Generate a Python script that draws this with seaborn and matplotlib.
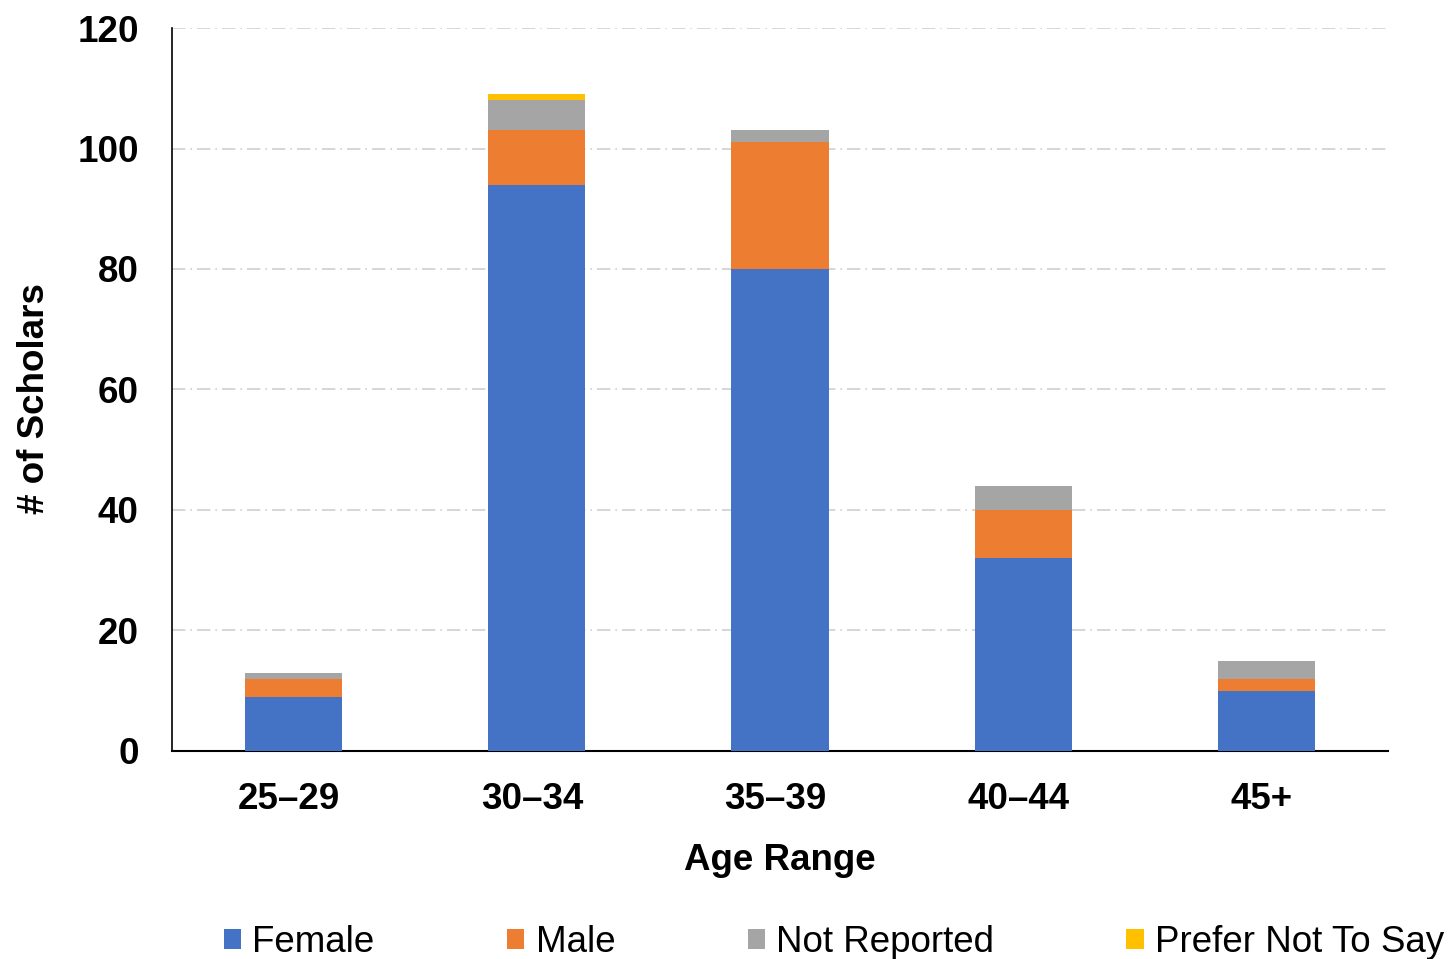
import matplotlib
matplotlib.use("Agg")
import matplotlib.pyplot as plt
import matplotlib.transforms as mtransforms
import seaborn as sns
import numpy as np
import pandas as pd

# Scholars by age range, broken down by gender
age_ranges = ["25\u201329", "30\u201334", "35\u201339", "40\u201344", "45+"]
female = [9, 94, 80, 32, 10]
male = [3, 9, 21, 8, 2]
not_reported = [1, 5, 2, 4, 3]
prefer_not = [0, 1, 0, 0, 0]

series_names = ["Female", "Male", "Not Reported", "Prefer Not To Say"]
series_values = [female, male, not_reported, prefer_not]
series_colors = ["#4472C4", "#ED7D31", "#A5A5A5", "#FFC000"]

sns.set_theme(style="white")
plt.rcParams["font.family"] = ["Liberation Sans", "DejaVu Sans"]
plt.rcParams["text.color"] = "black"

fig = plt.figure(figsize=(14.53, 9.59), dpi=100)
ax = fig.add_axes([0.1184, 0.2169, 0.8369, 0.7539])

bottom = np.zeros(len(age_ranges))
for name, vals, color in zip(series_names, series_values, series_colors):
    df = pd.DataFrame({"age": age_ranges, "n": vals})
    sns.barplot(data=df, x="age", y="n", bottom=bottom, color=color,
                saturation=1, width=0.4, linewidth=0, label=name, ax=ax, zorder=3)
    bottom = bottom + np.array(vals)

ax.set_ylim(0, 120)
ax.set_xlim(-0.5, 4.5)
ax.set_yticks(np.arange(0, 121, 20))
ax.yaxis.grid(True, color="#D0D0D0", linestyle=(0, (8, 3, 1, 3)), linewidth=1.2, zorder=0)
ax.xaxis.grid(False)

for s in ["top", "right"]:
    ax.spines[s].set_visible(False)
ax.spines["left"].set_color("black")
ax.spines["left"].set_linewidth(1.2)
ax.spines["bottom"].set_color("black")
ax.spines["bottom"].set_linewidth(1.5)

ax.tick_params(axis="both", length=0, labelsize=26.5, colors="black")
ax.tick_params(axis="y", pad=24)
ax.tick_params(axis="x", pad=22)
shift = mtransforms.ScaledTranslation(-0.05, 0, fig.dpi_scale_trans)
for lbl in ax.get_xticklabels():
    lbl.set_fontweight("bold")
    lbl.set_transform(lbl.get_transform() + shift)
for lbl in ax.get_yticklabels():
    lbl.set_fontweight("bold")

ax.set_xlabel("Age Range", fontsize=26.5, fontweight="bold", labelpad=19, color="black")
ax.set_ylabel("# of Scholars", fontsize=26.5, fontweight="bold", labelpad=18, color="black")
ax.yaxis.label.set_y(0.4876)

handles, labels = ax.get_legend_handles_labels()
if ax.get_legend() is not None:
    ax.get_legend().remove()
fig.legend(handles, labels, loc="center", bbox_to_anchor=(0.574, 0.017),
           ncol=4, frameon=False, fontsize=26.5, handlelength=0.47, handleheight=0.47,
           handletextpad=0.3, columnspacing=3.6, borderaxespad=0, borderpad=0)

fig.savefig("out.png", dpi=100)
